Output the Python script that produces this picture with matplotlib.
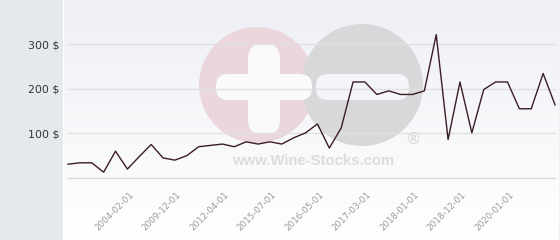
import numpy as np
import matplotlib.pyplot as plt
from matplotlib.patches import Circle, FancyBboxPatch, Rectangle
import matplotlib.transforms as mtransforms

# prices ($), one per point
prices = [31, 34, 34, 13, 60, 20, 48, 75, 45, 40, 50, 70, 73, 76,
          70, 81, 76, 81, 76, 90, 101, 121, 67, 112, 215, 215, 187, 195,
          187, 187, 195, 321, 86, 215, 101, 198, 215, 215, 155, 155, 234, 164]
tick_idx = [6, 10, 14, 18, 22, 26, 30, 34, 38]
tick_labels = ["2004-02-01", "2009-12-01", "2012-04-01", "2015-07-01", "2016-05-01",
               "2017-03-01", "2018-01-01", "2018-12-01", "2020-01-01"]
y_ticks = [100, 200, 300]

W, H = 560, 240
fig = plt.figure(figsize=(W / 100, H / 100), dpi=100)

# background + watermark, in pixel coords
bg = fig.add_axes([0, 0, 1, 1])
bg.set_xlim(0, W)
bg.set_ylim(H, 0)
bg.axis("off")
bg.add_patch(Rectangle((0, 0), 63, H, color="#e6e9ec", lw=0))
grad = np.linspace(0, 1, 100).reshape(-1, 1)
top = np.array([0.933, 0.941, 0.961])
bot = np.array([1.0, 1.0, 1.0])
img = top + (bot - top) * grad[..., None]
bg.imshow(img, extent=(64, 559, H, 0), aspect="auto", interpolation="bilinear", zorder=0)
bg.plot([559.5, 559.5], [0, H], color="#b8b8b8", lw=1, zorder=1)

bg.add_patch(Circle((257, 85), 58, color="#ead6dc", lw=0, zorder=1))
bg.add_patch(Circle((362, 85), 61, color="#d8d8da", lw=0, zorder=1))
bg.add_patch(FancyBboxPatch((248, 44), 32, 90, boxstyle="round,pad=0,rounding_size=14",
                            color="#fafafc", lw=0, zorder=2))
bg.add_patch(FancyBboxPatch((216, 74), 96, 26, boxstyle="round,pad=0,rounding_size=12",
                            color="#fafafc", lw=0, zorder=2))
bg.add_patch(FancyBboxPatch((316, 74), 93, 26, boxstyle="round,pad=0,rounding_size=12",
                            color="#f4f5f8", lw=0, zorder=2))
bg.text(313, 161, "www.Wine-Stocks.com", ha="center", va="center", fontsize=10.7,
        fontweight="bold", family="Liberation Sans", color="#dcdcdd", zorder=2)
bg.text(413, 139, "®", ha="center", va="center", fontsize=11,
        family="DejaVu Sans", color="#d6d6d8", zorder=2)

# chart
x = np.arange(len(prices))
px_per_unit = 134 / 300
ymax = 360
ax = fig.add_axes([68 / W, (H - 178) / H, 487 / W, ymax * px_per_unit / H])
ax.patch.set_alpha(0)
ax.set_xlim(0, len(prices) - 1)
ax.set_ylim(0, ymax)
for s in ax.spines.values():
    s.set_visible(False)

for yv in [0] + y_ticks:
    ax.axhline(yv, color="#d9d9dc" if yv == 0 else "#e0e0e3", lw=1, zorder=1, clip_on=False)

ax.plot(x, prices, color="#3a1c27", lw=1.0, zorder=3, clip_on=False)

ax.set_yticks(y_ticks)
ax.set_yticklabels([f"{v} $" for v in y_ticks], fontsize=7.9, color="#333333")
ax.tick_params(axis="y", length=0, pad=6)

ax.set_xticks(tick_idx)
ax.set_xticklabels(tick_labels, rotation=45, ha="right", va="top", fontsize=6.3, color="#9a9a9a")
ax.tick_params(axis="x", length=0, pad=9)
off = mtransforms.ScaledTranslation(-4 / 100, 0, fig.dpi_scale_trans)
for lab in ax.get_xticklabels():
    lab.set_transform(lab.get_transform() + off)

fig.savefig("out.png", dpi=100)
